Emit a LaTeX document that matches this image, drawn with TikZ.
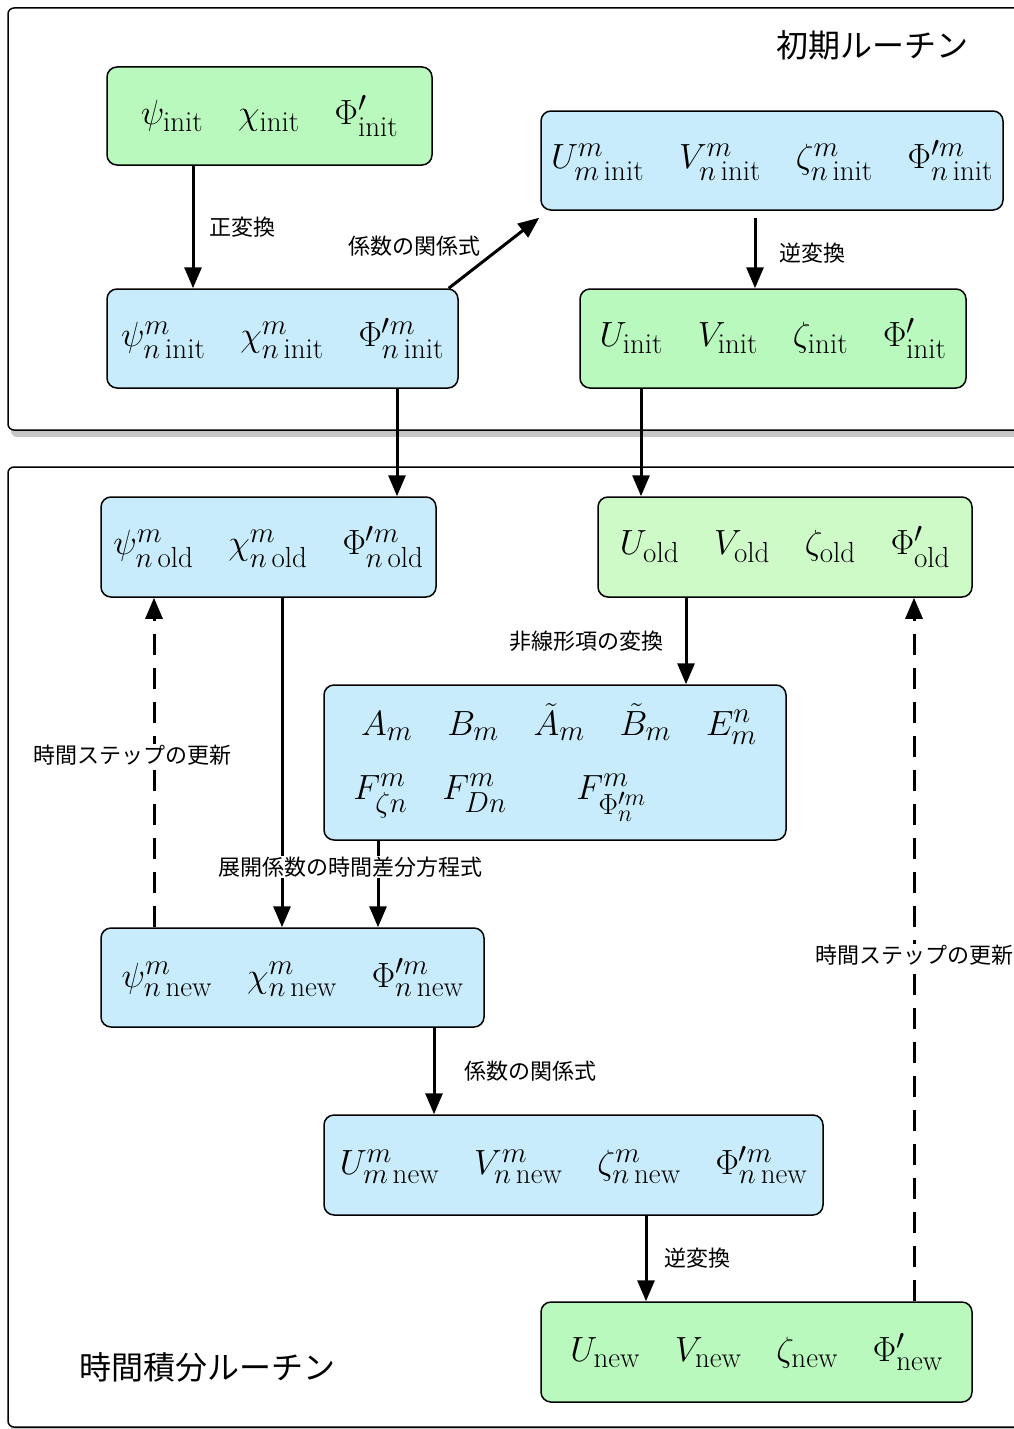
\RequirePackage{fix-cm}
\documentclass[tikz,border=0pt]{standalone}
\usepackage{amssymb}
\usepackage{fontspec}
\newfontfamily\jpfont{Noto Sans CJK JP}
\usepackage{tikz}
\usetikzlibrary{arrows.meta,shadows,positioning}
\DeclareMathSizes{35}{35}{29}{24}

\definecolor{coefblue}{RGB}{200,236,252}
\definecolor{physgreen}{RGB}{186,249,190}
\definecolor{oldgreen}{RGB}{206,250,200}

\begin{document}
\begin{tikzpicture}[x=1pt,y=-1pt]
			\tikzstyle{Frame}	= [draw, line width=1.5pt, rounded corners=6pt, fill=white, drop shadow={shadow xshift=3pt, shadow yshift=-7pt, opacity=0.45}]
			\tikzstyle{Box}		= [draw, line width=1.5pt, rounded corners=10pt, inner sep=0pt, font=\fontsize{35}{60}\selectfont]
			\tikzstyle{Coef}	= [Box, fill=coefblue]
			\tikzstyle{Phys}	= [Box, fill=physgreen]
			\tikzstyle{PhysOld}	= [Box, fill=oldgreen]
			\tikzstyle{Flow}	= [line width=3pt, -{Triangle[length=21pt,width=17pt]}]
			\tikzstyle{Update}	= [Flow, dash pattern=on 21pt off 13pt]
			\tikzstyle{Note}	= [font=\jpfont\fontsize{22}{24}\selectfont, inner sep=1pt]
			\tikzstyle{Title}	= [font=\jpfont\fontsize{32}{36}\selectfont]
			
			\useasboundingbox (0,0) rectangle (1014,1429);
			
			% routines
			\draw [Frame] (8,8) rectangle (1040,430);
			\draw [Frame] (8,467) rectangle (1040,1427);
			\node (tini) at (872,45) [Title] {初期ルーチン};
			\node (tint) at (207,1367) [Title] {時間積分ルーチン};
			
			% initial routine
			\node (ini) at (269.5,116) [Phys, minimum width=325, minimum height=98]
				{$\psi_{\mathrm{init}}\quad\chi_{\mathrm{init}}\quad\Phi'_{\mathrm{init}}$};
			\node (pini) at (282.5,338.5) [Coef, minimum width=351, minimum height=99]
				{$\psi^m_{n\,\mathrm{init}}\quad\chi^m_{n\,\mathrm{init}}\quad\Phi'^m_{n\,\mathrm{init}}$};
			\node (cini) at (772,160.5) [Coef, minimum width=462, minimum height=99]
				{$U^m_{m\,\mathrm{init}}\quad V^m_{n\,\mathrm{init}}\quad\zeta^m_{n\,\mathrm{init}}\quad\Phi'^m_{n\,\mathrm{init}}$};
			\node (uini) at (773,338.5) [Phys, minimum width=386, minimum height=99]
				{$U_{\mathrm{init}}\quad V_{\mathrm{init}}\quad\zeta_{\mathrm{init}}\quad\Phi'_{\mathrm{init}}$};
			
			% time integration
			\node (pold) at (268.5,547) [Coef, minimum width=335, minimum height=100]
				{$\psi^m_{n\,\mathrm{old}}\quad\chi^m_{n\,\mathrm{old}}\quad\Phi'^m_{n\,\mathrm{old}}$};
			\node (uold) at (785,547) [PhysOld, minimum width=374, minimum height=100]
				{$U_{\mathrm{old}}\quad V_{\mathrm{old}}\quad\zeta_{\mathrm{old}}\quad\Phi'_{\mathrm{old}}$};
			\node (nl) at (555,762.5) [Coef, minimum width=462, minimum height=155, align=left]
				{$\kern8pt A_m\quad B_m\quad\tilde{A}_m\quad\tilde{B}_m\quad E^n_m$\\[4pt]
				 $F^m_{\zeta n}\quad F^m_{Dn}\qquad F^m_{\Phi'^m_n}$};
			\node (pnew) at (292.5,977.5) [Coef, minimum width=383, minimum height=99]
				{$\psi^m_{n\,\mathrm{new}}\quad\chi^m_{n\,\mathrm{new}}\quad\Phi'^m_{n\,\mathrm{new}}$};
			\node (cnew) at (573.5,1165) [Coef, minimum width=499, minimum height=100]
				{$U^m_{m\,\mathrm{new}}\quad V^m_{n\,\mathrm{new}}\quad\zeta^m_{n\,\mathrm{new}}\quad\Phi'^m_{n\,\mathrm{new}}$};
			\node (unew) at (756.5,1352) [Phys, minimum width=431, minimum height=100]
				{$U_{\mathrm{new}}\quad V_{\mathrm{new}}\quad\zeta_{\mathrm{new}}\quad\Phi'_{\mathrm{new}}$};
			
			% arrows
			\draw [Flow] ([xshift=-76.5]ini.south) -- ([xshift=-76.5]ini.south |- pini.north)
				node [Note, midway, right=14pt] {正変換};
			\draw [Flow] ([xshift=-10]pini.north east) -- ([shift={(-1,7)}]cini.south west);
			\node (lcoef) at (414,246) [Note] {係数の関係式};
			\draw [Flow] ([shift={(-17,7)}]cini.south) -- ([xshift=-17]cini.south |- uini.north)
				node [Note, midway, right=22pt] {逆変換};
			\draw [Flow] ([xshift=114.5]pini.south) -- ([xshift=114.5]pini.south |- pold.north);
			\draw [Flow] ([xshift=-132]uini.south) -- ([xshift=-132]uini.south |- uold.north);
			\draw [Flow] ([xshift=-99]uold.south) -- ([xshift=-99]uold.south |- nl.north)
				node [Note, midway, left=20pt] {非線形項の変換};
			\draw [Flow] ([xshift=13.5]pold.south) -- ([xshift=13.5]pold.south |- pnew.north);
			\draw [Flow] ([xshift=-177]nl.south) -- ([xshift=-177]nl.south |- pnew.north);
			\node (ldiff) at (350,867) [Note, fill=white] {展開係数の時間差分方程式};
			\draw [Flow] ([xshift=141.5]pnew.south) -- ([xshift=141.5]pnew.south |- cnew.north)
				node [Note, midway, right=28pt] {係数の関係式};
			\draw [Flow] ([xshift=72.5]cnew.south) -- ([xshift=72.5]cnew.south |- unew.north)
				node [Note, midway, right=16pt] {逆変換};
			
			% time step update
			\draw [Update] ([xshift=-138.5]pnew.north) -- ([xshift=-138.5]pnew.north |- pold.south)
				node [Note, fill=white, pos=0.523, xshift=-22] {時間ステップの更新};
			\draw [Update] ([xshift=157.5]unew.north) -- ([xshift=157.5]unew.north |- uold.south)
				node [Note, fill=white, pos=0.492] {時間ステップの更新};
		\end{tikzpicture}
\end{document}
